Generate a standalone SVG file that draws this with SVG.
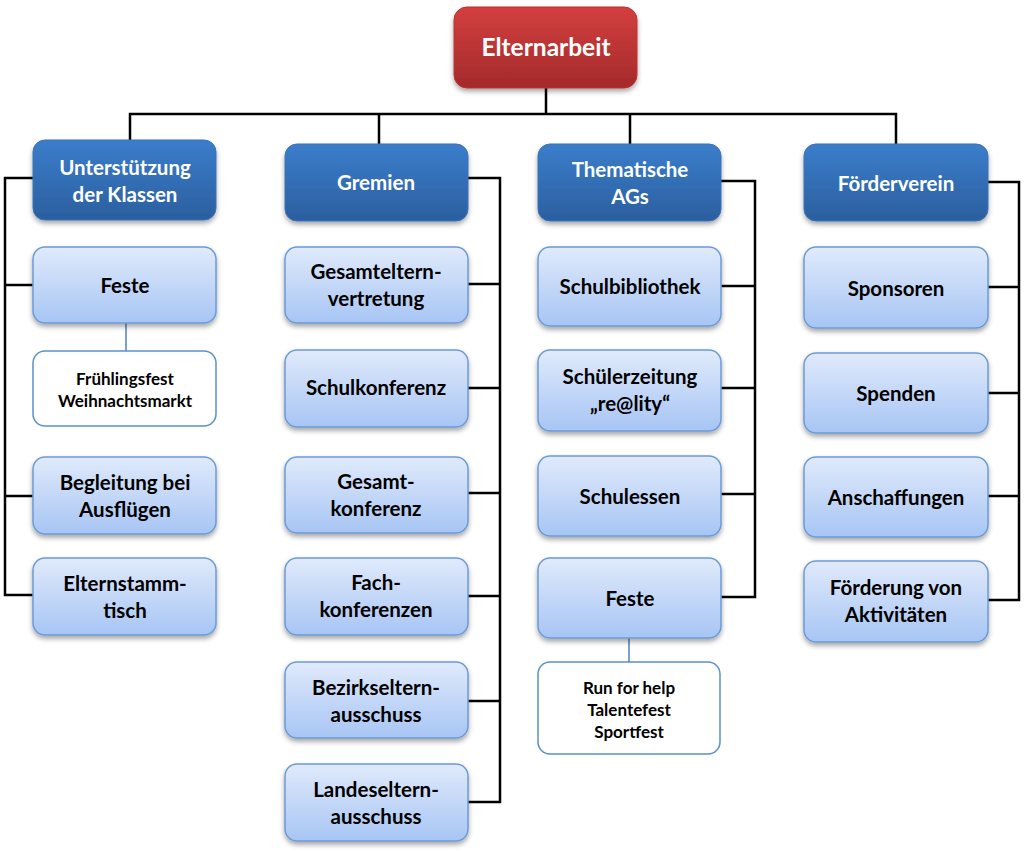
<svg xmlns="http://www.w3.org/2000/svg" width="1024" height="851" viewBox="0 0 1024 851">
<defs>
<linearGradient id="gRed" x1="0" y1="0" x2="0" y2="1"><stop offset="0" stop-color="#d33f3f"/><stop offset="1" stop-color="#a42a2a"/></linearGradient>
<linearGradient id="gBlue" x1="0" y1="0" x2="0" y2="1"><stop offset="0" stop-color="#3b7dcb"/><stop offset="1" stop-color="#2b5f9f"/></linearGradient>
<linearGradient id="gLight" x1="0" y1="0" x2="0" y2="1"><stop offset="0" stop-color="#e0eafb"/><stop offset="1" stop-color="#a7c5f4"/></linearGradient>
<filter id="sh" x="-10%" y="-10%" width="120%" height="130%"><feDropShadow dx="0" dy="3" stdDeviation="2.5" flood-color="#000" flood-opacity="0.35"/></filter>
</defs>
<style>
.root{fill:url(#gRed);stroke:#b83434;stroke-width:1;filter:url(#sh)}
.hdr{fill:url(#gBlue);stroke:#3a72b8;stroke-width:1;filter:url(#sh)}
.itm{fill:url(#gLight);stroke:#6b9bd6;stroke-width:1.5;filter:url(#sh)}
.sub{fill:#fff;stroke:#5b8fd0;stroke-width:1.5}
.tw{font-family:Lato,"Liberation Sans",sans-serif;font-weight:bold;fill:#fff;text-anchor:middle}
.tb{font-family:Lato,"Liberation Sans",sans-serif;font-weight:bold;fill:#000;text-anchor:middle}
.h{font-size:20.5px}
.i{font-size:20.5px}
.s{font-size:17px}
.con{fill:none;stroke:#000;stroke-width:2.5}
.bl{fill:none;stroke:#4f81bd;stroke-width:1.5}
</style>
<g id="connectors">
<path class="con" d="M546 88 V114 M130 140 V114 H896 V144 M379 114 V144 M630 114 V144"/>
<path class="con" d="M33 178 H5 V595 H33 M5 285 H33 M5 496 H33"/>
<path class="con" d="M468 178 H500 V802 H468 M468 284 H500 M468 388 H500 M468 493 H500 M468 596 H500 M468 701 H500"/>
<path class="con" d="M721 181 H755 V597 H721 M721 286 H755 M721 388 H755 M721 494 H755"/>
<path class="con" d="M988 182 H1019 V600 H988 M988 287 H1019 M988 393 H1019 M988 496 H1019"/>
<path class="bl" d="M126 323 V351 M629 638 V662"/>
</g>
<g id="n-root"><rect class="root" x="454" y="7" width="183" height="81" rx="13"/><text class="tw" x="546" y="56" font-size="24.5">Elternarbeit</text></g>

<g id="n-klassen"><rect class="hdr" x="33" y="140" width="183" height="80" rx="12"/><text class="tw h" x="125" y="175">Unterstützung</text><text class="tw h" x="125" y="202">der Klassen</text></g>
<g id="n-feste1"><rect class="itm" x="33" y="247" width="183" height="76" rx="12"/><text class="tb i" x="125" y="293">Feste</text></g>
<g id="n-fruehling"><rect class="sub" x="33" y="351" width="183" height="75" rx="12"/><text class="tb s" x="125" y="385">Frühlingsfest</text><text class="tb s" x="125" y="407">Weihnachtsmarkt</text></g>
<g id="n-begleitung"><rect class="itm" x="33" y="457" width="183" height="77" rx="12"/><text class="tb i" x="125" y="490">Begleitung bei</text><text class="tb i" x="125" y="517">Ausflügen</text></g>
<g id="n-stammtisch"><rect class="itm" x="33" y="558" width="183" height="77" rx="12"/><text class="tb i" x="125" y="591">Elternstamm-</text><text class="tb i" x="125" y="618">tisch</text></g>

<g id="n-gremien"><rect class="hdr" x="285" y="144" width="183" height="77" rx="12"/><text class="tw h" x="376" y="190">Gremien</text></g>
<g id="n-gesamteltern"><rect class="itm" x="285" y="247" width="183" height="76" rx="12"/><text class="tb i" x="376" y="279">Gesamteltern-</text><text class="tb i" x="376" y="306">vertretung</text></g>
<g id="n-schulkonf"><rect class="itm" x="285" y="350" width="183" height="77" rx="12"/><text class="tb i" x="376" y="395">Schulkonferenz</text></g>
<g id="n-gesamtkonf"><rect class="itm" x="285" y="457" width="183" height="76" rx="12"/><text class="tb i" x="376" y="489">Gesamt-</text><text class="tb i" x="376" y="516">konferenz</text></g>
<g id="n-fachkonf"><rect class="itm" x="285" y="558" width="183" height="77" rx="12"/><text class="tb i" x="376" y="590">Fach-</text><text class="tb i" x="376" y="617">konferenzen</text></g>
<g id="n-bezirk"><rect class="itm" x="285" y="662" width="183" height="76" rx="12"/><text class="tb i" x="376" y="695">Bezirkseltern-</text><text class="tb i" x="376" y="722">ausschuss</text></g>
<g id="n-landes"><rect class="itm" x="285" y="764" width="183" height="77" rx="12"/><text class="tb i" x="376" y="797">Landeseltern-</text><text class="tb i" x="376" y="824">ausschuss</text></g>

<g id="n-ags"><rect class="hdr" x="538" y="144" width="183" height="77" rx="12"/><text class="tw h" x="630" y="177">Thematische</text><text class="tw h" x="630" y="204">AGs</text></g>
<g id="n-bibliothek"><rect class="itm" x="538" y="247" width="183" height="79" rx="12"/><text class="tb i" x="630" y="294">Schulbibliothek</text></g>
<g id="n-zeitung"><rect class="itm" x="538" y="350" width="183" height="81" rx="12"/><text class="tb i" x="630" y="384">Schülerzeitung</text><text class="tb i" x="630" y="411">„re@lity“</text></g>
<g id="n-schulessen"><rect class="itm" x="538" y="456" width="183" height="80" rx="12"/><text class="tb i" x="630" y="504">Schulessen</text></g>
<g id="n-feste2"><rect class="itm" x="538" y="558" width="183" height="80" rx="12"/><text class="tb i" x="630" y="606">Feste</text></g>
<g id="n-run"><rect class="sub" x="538" y="662" width="182" height="92" rx="12"/><text class="tb s" x="629" y="694">Run for help</text><text class="tb s" x="629" y="716">Talentefest</text><text class="tb s" x="629" y="738">Sportfest</text></g>

<g id="n-foerder"><rect class="hdr" x="804" y="144" width="184" height="77" rx="12"/><text class="tw h" x="896" y="191">Förderverein</text></g>
<g id="n-sponsoren"><rect class="itm" x="804" y="247" width="184" height="81" rx="12"/><text class="tb i" x="896" y="296">Sponsoren</text></g>
<g id="n-spenden"><rect class="itm" x="804" y="353" width="184" height="80" rx="12"/><text class="tb i" x="896" y="401">Spenden</text></g>
<g id="n-anschaffungen"><rect class="itm" x="804" y="457" width="184" height="80" rx="12"/><text class="tb i" x="896" y="505">Anschaffungen</text></g>
<g id="n-aktiv"><rect class="itm" x="804" y="561" width="184" height="81" rx="12"/><text class="tb i" x="896" y="595">Förderung von</text><text class="tb i" x="896" y="622">Aktivitäten</text></g>
</svg>
